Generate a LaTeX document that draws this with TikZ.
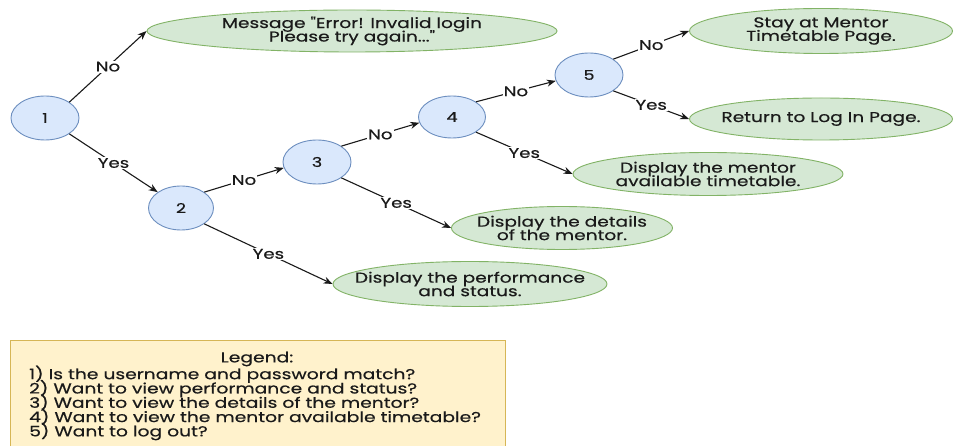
\documentclass[tikz,border=0pt]{standalone}
\usepackage{fontspec}
\setmainfont{Poppins}[FakeStretch=1.3, FakeBold=0.5, Ligatures=TeXOff]
\usetikzlibrary{shapes.geometric,arrows.meta}
\definecolor{qfill}{HTML}{DAE8FC}
\definecolor{qdraw}{HTML}{6C8EBF}
\definecolor{afill}{HTML}{D5E8D4}
\definecolor{adraw}{HTML}{82B366}
\definecolor{lfill}{HTML}{FFF2CC}
\definecolor{ldraw}{HTML}{D6B656}
\definecolor{ink}{HTML}{1A1A1A}
% fixed line pitch, whatever the glyph heights
\newcommand\pitch[2]{\fontsize{#1}{#2}\selectfont\lineskiplimit=-100pt\relax}
\tikzset{
  question/.style={ellipse, draw=qdraw, fill=qfill, line width=0.9pt, inner sep=0pt,
    minimum width=68pt, minimum height=44pt, text=ink, font=\pitch{13.5}{14}},
  answer/.style={ellipse, draw=adraw, fill=afill, line width=0.9pt, inner sep=0pt},
  answertext/.style={align=center, text=ink, inner sep=0pt, font=\pitch{14.3}{13.5}},
  flow/.style={draw=ink, line width=1.1pt, -{Stealth[length=9pt,width=7pt]}},
  choice/.style={fill=white, inner sep=1pt, text=ink, font=\pitch{14}{14}},
}
\begin{document}
\begin{tikzpicture}[x=1pt, y=-1pt]
\useasboundingbox (0,0) rectangle (954,446);
\fill[white] (0,0) rectangle (954,446);

% decision points
\node[question] (n1) at (45,118) {1};
\node[question, minimum width=65pt] (n2) at (181,208) {2};
\node[question] (n3) at (317,162) {3};
\node[question, minimum width=67pt, minimum height=42pt] (n4) at (452,117) {4};
\node[question] (n5) at (589,75) {5};

% outcomes: fixed-size ellipses, text set at the centre
\node[answer, minimum width=410pt, minimum height=42pt,
  label={[answertext]center:Message "Error! Invalid login\\Please try again..."}] (err) at (352,31) {};
\node[answer, minimum width=263pt, minimum height=45pt,
  label={[answertext]center:Stay at Mentor\\Timetable Page.}] (stay) at (821,31) {};
\node[answer, minimum width=263pt, minimum height=42pt,
  label={[answertext]center:Return to Log In Page.}] (ret) at (821,119) {};
\node[answer, minimum width=270pt, minimum height=43pt,
  label={[answertext]center:Display the mentor\\available timetable.}] (tt) at (708,174) {};
\node[answer, minimum width=221pt, minimum height=43pt,
  label={[answertext]center:Display the details\\of the mentor.}] (det) at (562,228) {};
\node[answer, minimum width=274pt, minimum height=45pt,
  label={[answertext]center:Display the performance\\and status.}] (perf) at (470,284) {};

% connectors
\draw[flow] (n1.north east) -- node[choice] {No} (err.west);
\draw[flow] (n1.south east) -- node[choice] {Yes} (n2.north west);
\draw[flow] (n2.north east) -- node[choice] {No} (n3.190);
\draw[flow] (n2.south east) -- node[choice] {Yes} (perf.west);
\draw[flow] (n3.north east) -- node[choice] {No} (n4.190);
\draw[flow] (n3.south east) -- node[choice] {Yes} (det.west);
\draw[flow] (n4.north east) -- node[choice] {No} (n5.190);
\draw[flow] (n4.south east) -- node[choice] {Yes} (tt.west);
\draw[flow] (n5.north east) -- node[choice] {No} (stay.west);
\draw[flow] (n5.south east) -- node[choice] {Yes} (ret.west);

% legend
\begin{scope}
\clip (0,0) rectangle (954,446);
\draw[draw=ldraw, fill=lfill, line width=0.9pt] (10,340) rectangle (505,452);
\end{scope}
\node[text=ink, font=\pitch{14.4}{14.3}] (ltitle) at (257,359) {Legend:};
\node[anchor=west, align=left, inner sep=0pt, text=ink, font=\pitch{14.4}{14.3}] (litems) at (29,403)
  {1) Is the username and password match?\\
   2) Want to view performance and status?\\
   3) Want to view the details of the mentor?\\
   4) Want to view the mentor available timetable?\\
   5) Want to log out?};
\end{tikzpicture}
\end{document}
